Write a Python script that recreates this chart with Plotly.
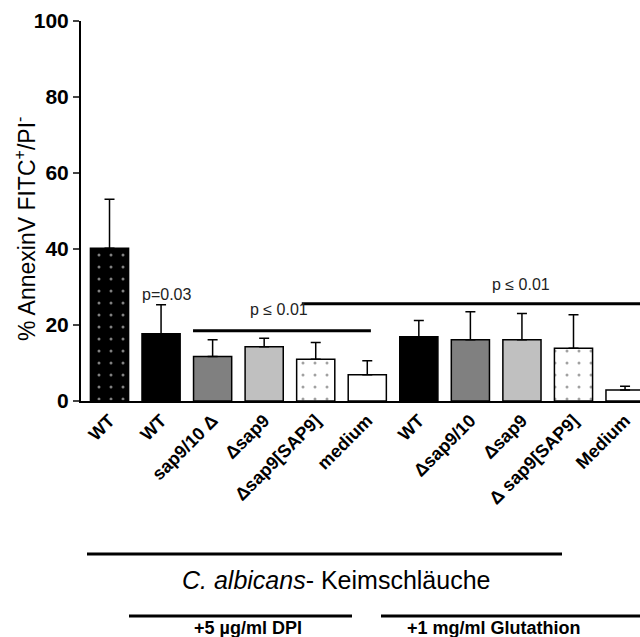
import plotly.graph_objects as go

labels = ["WT", "WT", "sap9/10 Δ", "Δsap9", "Δsap9[SAP9]", "medium",
          "WT", "Δsap9/10", "Δsap9", "Δ sap9[SAP9]", "Medium"]
values = [40.2, 17.7, 11.7, 14.3, 11.0, 6.9, 16.9, 16.1, 16.1, 13.9, 2.9]
err_up = [12.9, 7.6, 4.4, 2.2, 4.4, 3.7, 4.3, 7.4, 6.9, 8.8, 1.0]
fills = ["black", "black", "#808080", "#c0c0c0", "white", "white",
         "black", "#808080", "#c0c0c0", "white", "white"]
dotted = [True, False, False, False, True, False, False, False, False, True, False]

x = list(range(len(values)))

fig = go.Figure()

def add_group(idx, dots):
    if not idx:
        return
    marker = dict(color=[fills[i] for i in idx],
                  line=dict(color="black", width=1.5))
    if dots:
        marker["pattern"] = dict(
            shape=".",
            fgcolor=["white" if fills[i] == "black" else "black" for i in idx],
            bgcolor=[fills[i] for i in idx],
            size=12, solidity=0.05, fillmode="overlay")
    fig.add_trace(go.Bar(
        x=[x[i] for i in idx], y=[values[i] for i in idx], width=0.74,
        marker=marker,
        error_y=dict(type="data", symmetric=False,
                     array=[err_up[i] for i in idx],
                     arrayminus=[0] * len(idx), color="black",
                     thickness=1.5, width=5),
        showlegend=False,
    ))

add_group([i for i in x if not dotted[i]], False)
add_group([i for i in x if dotted[i]], True)

fig.update_layout(
    width=640, height=637,
    margin=dict(l=81, r=0, t=21, b=236),
    plot_bgcolor="white", paper_bgcolor="white",
    font=dict(family="Liberation Sans, Arial", color="black"),
    barmode="overlay",
)
fig.update_xaxes(
    range=[-0.553, 10.29], tickvals=x, ticktext=labels,
    tickangle=-45, ticks="", showline=True, linecolor="black", linewidth=2,
    tickfont=dict(size=18, weight="bold"),
    showgrid=False, zeroline=False,
)
fig.update_yaxes(
    range=[0, 100], tickvals=[0, 20, 40, 60, 80, 100],
    ticks="outside", ticklen=6, tickwidth=2, showline=True, linecolor="black",
    linewidth=2, showgrid=False, zeroline=False,
    tickfont=dict(size=21, weight="bold"),
)

def px2x(px):
    return (px - 81) / 559

def px2y(py):
    return (401 - py) / 380

shapes = [
    dict(type="line", xref="x", yref="y", x0=1.62, x1=5.07, y0=18.5, y1=18.5,
         line=dict(color="black", width=3)),
    dict(type="line", xref="x", yref="y", x0=3.73, x1=10.4, y0=25.6, y1=25.6,
         line=dict(color="black", width=3)),
    dict(type="line", xref="paper", yref="paper", x0=px2x(87), x1=px2x(562),
         y0=px2y(554), y1=px2y(554), line=dict(color="black", width=3)),
    dict(type="line", xref="paper", yref="paper", x0=px2x(129), x1=px2x(352),
         y0=px2y(616), y1=px2y(616), line=dict(color="black", width=3)),
    dict(type="line", xref="paper", yref="paper", x0=px2x(381), x1=px2x(645),
         y0=px2y(616), y1=px2y(616), line=dict(color="black", width=3)),
]
fig.update_layout(shapes=shapes)

common = dict(showarrow=False, xanchor="center", yanchor="middle")
anns = [
    dict(x=px2x(25), y=px2y(229), xref="paper", yref="paper", textangle=-90,
         text="% AnnexinV FITC<sup>+</sup>/PI<sup>-</sup>",
         font=dict(size=23), **common),
    dict(x=1.1, y=27.9, xref="x", yref="y", text="p=0.03",
         font=dict(size=16, color="#222"), **common),
    dict(x=3.29, y=24.0, xref="x", yref="y", text="p ≤ 0.01",
         font=dict(size=16, color="#222"), **common),
    dict(x=7.98, y=30.6, xref="x", yref="y", text="p ≤ 0.01",
         font=dict(size=16, color="#222"), **common),
    dict(x=px2x(336), y=px2y(580), xref="paper", yref="paper",
         text="<i>C. albicans</i>- Keimschläuche", font=dict(size=25), **common),
    dict(x=px2x(248), y=px2y(628), xref="paper", yref="paper",
         text="+5 µg/ml DPI", font=dict(size=18, weight="bold"), **common),
    dict(x=px2x(494), y=px2y(628), xref="paper", yref="paper",
         text="+1 mg/ml Glutathion", font=dict(size=18, weight="bold"), **common),
]
fig.update_layout(annotations=anns)

fig.write_html("out.html")
